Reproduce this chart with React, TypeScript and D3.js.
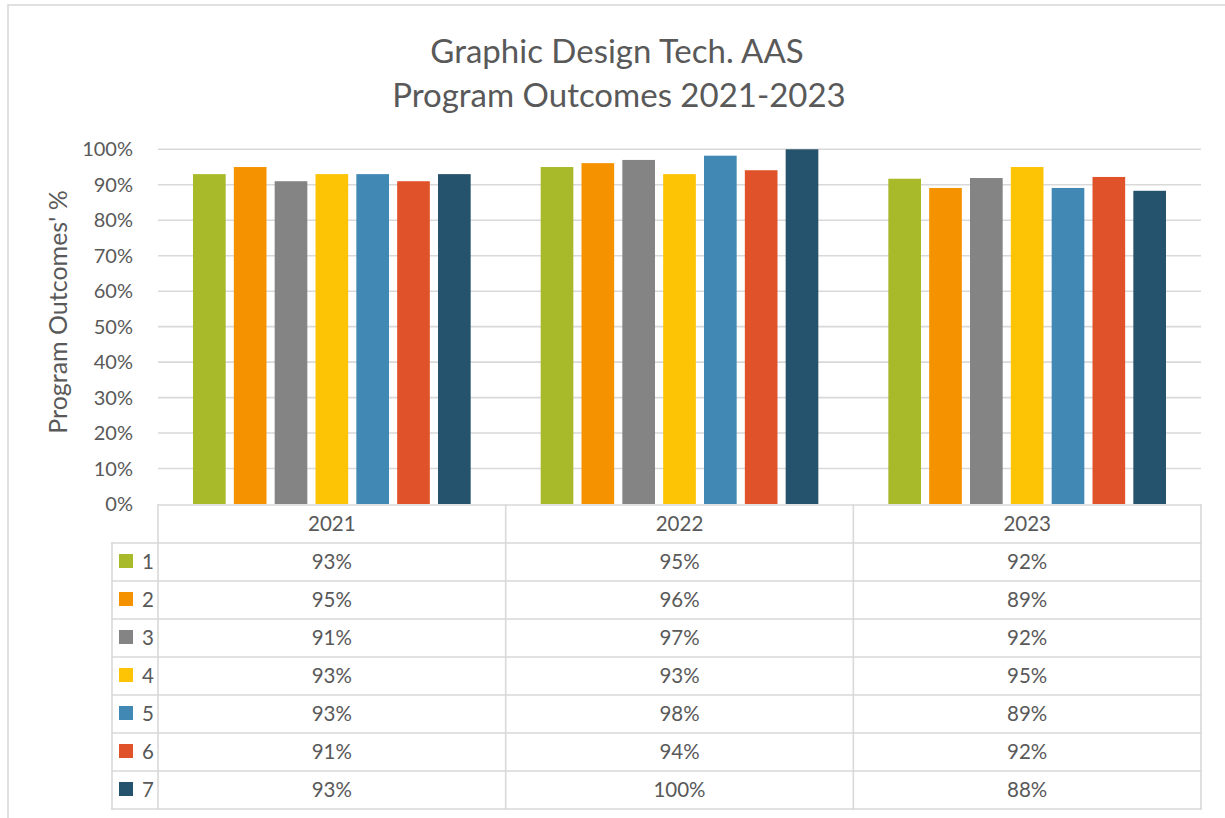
import React, { useEffect, useRef } from 'react';
import * as d3 from 'd3';

// values (percent)
const years = ['2021', '2022', '2023'];
const seriesNames = ['1', '2', '3', '4', '5', '6', '7'];
const outcome1 = [93, 95, 91.7];
const outcome2 = [95, 96.1, 89.1];
const outcome3 = [91, 97, 91.9];
const outcome4 = [93, 93, 95];
const outcome5 = [93, 98.2, 89.1];
const outcome6 = [91, 94.1, 92.2];
const outcome7 = [93, 100, 88.3];
const yTicks = [0, 10, 20, 30, 40, 50, 60, 70, 80, 90, 100];
const colors = ['#A8B92A', '#F59200', '#848484', '#FDC305', '#4189B4', '#E0532A', '#25526C'];

const W = 1225;
const H = 818;
const FONT = 'Lato, Carlito, Calibri, sans-serif';
const TEXT = '#595959';
const LINE = '#d9d9d9';

const App = () => {
    const ref = useRef(null);

    useEffect(() => {
        const svg = d3.select(ref.current);
        svg.selectAll('*').remove();

        const values = [outcome1, outcome2, outcome3, outcome4, outcome5, outcome6, outcome7];

        const plotLeft = 158;
        const plotRight = 1201;
        const y = d3.scaleLinear().domain([0, 100]).range([504, 149.3]);
        const x0 = d3.scaleBand().domain(years).range([plotLeft, plotRight]);
        const x1 = d3
            .scaleBand()
            .domain(seriesNames)
            .range([35, x0.bandwidth() - 35])
            .paddingInner(0.2);

        // chart border
        svg.append('rect')
            .attr('x', 8)
            .attr('y', 5)
            .attr('width', W + 20)
            .attr('height', H + 20)
            .attr('fill', '#fff')
            .attr('stroke', LINE)
            .attr('stroke-width', 1.6);

        // title
        const title = svg.append('text')
            .attr('text-anchor', 'middle')
            .attr('font-family', FONT)
            .attr('font-size', 33)
            .attr('fill', TEXT);
        title.append('tspan').attr('x', 617).attr('y', 63).text('Graphic Design Tech. AAS');
        title.append('tspan').attr('x', 619).attr('y', 107).text('Program Outcomes 2021-2023');

        // gridlines
        svg.append('g')
            .selectAll('line')
            .data(yTicks.filter((t) => t > 0))
            .enter()
            .append('line')
            .attr('x1', plotLeft)
            .attr('x2', plotRight)
            .attr('y1', (d) => y(d))
            .attr('y2', (d) => y(d))
            .attr('stroke', LINE)
            .attr('stroke-width', 1.6);

        // y tick labels
        svg.append('g')
            .selectAll('text')
            .data(yTicks)
            .enter()
            .append('text')
            .attr('x', 133)
            .attr('y', (d) => y(d))
            .attr('dy', '0.35em')
            .attr('text-anchor', 'end')
            .attr('font-family', FONT)
            .attr('font-size', 20)
            .attr('fill', TEXT)
            .text((d) => `${d}%`);

        // y axis title
        svg.append('text')
            .attr('transform', `translate(67, 312) rotate(-90)`)
            .attr('text-anchor', 'middle')
            .attr('font-family', FONT)
            .attr('font-size', 25)
            .attr('fill', TEXT)
            .text("Program Outcomes' %");

        // bars
        const groups = svg.append('g')
            .selectAll('g')
            .data(years)
            .enter()
            .append('g')
            .attr('transform', (d) => `translate(${x0(d)},0)`);

        groups.selectAll('rect')
            .data((d, i) => seriesNames.map((s, k) => ({ s, v: values[k][i], k })))
            .enter()
            .append('rect')
            .attr('x', (d) => x1(d.s))
            .attr('width', x1.bandwidth())
            .attr('y', (d) => y(d.v))
            .attr('height', (d) => y(0) - y(d.v))
            .attr('fill', (d) => colors[d.k]);

        // data table
        const rowH = 38;
        const top = 505;
        const legendLeft = 112;
        const table = svg.append('g');
        const tableLines = [];
        tableLines.push([plotLeft, top, plotRight, top]);
        for (let r = 1; r <= seriesNames.length + 1; r++) {
            tableLines.push([legendLeft, top + r * rowH, plotRight, top + r * rowH]);
        }
        tableLines.push([legendLeft, top + rowH, legendLeft, top + (seriesNames.length + 1) * rowH]);
        [plotLeft, ...years.map((yr) => x0(yr) + x0.bandwidth())].forEach((xv) => {
            tableLines.push([xv, top, xv, top + (seriesNames.length + 1) * rowH]);
        });
        table.selectAll('line')
            .data(tableLines)
            .enter()
            .append('line')
            .attr('x1', (d) => d[0])
            .attr('y1', (d) => d[1])
            .attr('x2', (d) => d[2])
            .attr('y2', (d) => d[3])
            .attr('stroke', LINE)
            .attr('stroke-width', 1.6)
            .attr('stroke-linecap', 'square');

        // header
        table.selectAll('text.year')
            .data(years)
            .enter()
            .append('text')
            .attr('class', 'year')
            .attr('x', (d) => x0(d) + x0.bandwidth() / 2)
            .attr('y', top + rowH / 2)
            .attr('dy', '0.35em')
            .attr('text-anchor', 'middle')
            .attr('font-family', FONT)
            .attr('font-size', 20.5)
            .attr('fill', TEXT)
            .text((d) => d);

        const fmt = (v) => `${Math.round(v)}%`;
        seriesNames.forEach((s, k) => {
            const cy = top + (k + 1) * rowH + rowH / 2;
            table.append('rect')
                .attr('x', 119)
                .attr('y', cy - 8)
                .attr('width', 14)
                .attr('height', 14)
                .attr('fill', colors[k]);
            table.append('text')
                .attr('x', 142)
                .attr('y', cy)
                .attr('dy', '0.35em')
                .attr('font-family', FONT)
                .attr('font-size', 20.5)
                .attr('fill', TEXT)
                .text(s);
            years.forEach((yr, i) => {
                table.append('text')
                    .attr('x', x0(yr) + x0.bandwidth() / 2)
                    .attr('y', cy)
                    .attr('dy', '0.35em')
                    .attr('text-anchor', 'middle')
                    .attr('font-family', FONT)
                    .attr('font-size', 20.5)
                    .attr('fill', TEXT)
                    .text(fmt(values[k][i]));
            });
        });
    }, []);

    return (
        <svg
            ref={ref}
            width={W}
            height={H}
            style={{ position: 'absolute', left: 0, top: 0 }}
        />
    );
};

export default App;
